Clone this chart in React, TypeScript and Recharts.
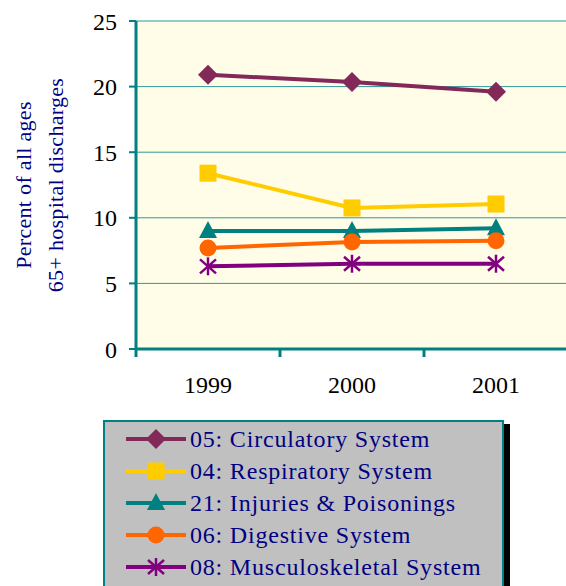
import { LineChart, Line, XAxis, YAxis, CartesianGrid } from 'recharts';

const YEARS = ['1999', '2000', '2001'];
const CIRCULATORY = [20.9, 20.35, 19.6];
const RESPIRATORY = [13.4, 10.75, 11.05];
const INJURIES = [9.0, 9.0, 9.2];
const DIGESTIVE = [7.7, 8.15, 8.25];
const MUSCULOSKELETAL = [6.3, 6.5, 6.5];
const Y_TICKS = [0, 5, 10, 15, 20, 25];
const Y_LABEL = ['Percent of all ages', '65+ hospital discharges'];

type MarkerKind = 'diamond' | 'square' | 'triangle' | 'circle' | 'star';

const SERIES: { key: string; name: string; values: number[]; color: string; marker: MarkerKind }[] = [
  { key: 'circ', name: '05: Circulatory System', values: CIRCULATORY, color: '#82295a', marker: 'diamond' },
  { key: 'resp', name: '04: Respiratory System', values: RESPIRATORY, color: '#ffcc00', marker: 'square' },
  { key: 'inj', name: '21: Injuries & Poisonings', values: INJURIES, color: '#008080', marker: 'triangle' },
  { key: 'dig', name: '06: Digestive System', values: DIGESTIVE, color: '#ff6600', marker: 'circle' },
  { key: 'musc', name: '08: Musculoskeletal System', values: MUSCULOSKELETAL, color: '#800080', marker: 'star' },
];

const data = YEARS.map((year, i) => {
  const row: Record<string, string | number> = { year };
  SERIES.forEach((s) => (row[s.key] = s.values[i]));
  return row;
});

const TEAL = '#008080';
const NAVY = '#000080';
const FONT = 'Times New Roman, Times, Liberation Serif, Tinos, serif';

const CHART_W = 600;
const MARGIN = { top: 21, right: 32, left: 0, bottom: 0 };
const Y_AXIS_W = 136;
const BAND = (CHART_W - MARGIN.right - Y_AXIS_W) / YEARS.length;

function Marker({ kind, cx, cy, color }: { kind: MarkerKind; cx: number; cy: number; color: string }) {
  switch (kind) {
    case 'diamond':
      return <polygon points={`${cx},${cy - 10} ${cx + 10},${cy} ${cx},${cy + 10} ${cx - 10},${cy}`} fill={color} />;
    case 'square':
      return <rect x={cx - 8.5} y={cy - 8.5} width={17} height={17} fill={color} />;
    case 'triangle':
      return <polygon points={`${cx},${cy - 10} ${cx + 9},${cy + 7} ${cx - 9},${cy + 7}`} fill={color} />;
    case 'circle':
      return <circle cx={cx} cy={cy} r={8.5} fill={color} />;
    case 'star':
      return (
        <g stroke={color} strokeWidth={2.5}>
          <line x1={cx} y1={cy - 9} x2={cx} y2={cy + 9} />
          <line x1={cx - 8} y1={cy - 7} x2={cx + 8} y2={cy + 7} />
          <line x1={cx - 8} y1={cy + 7} x2={cx + 8} y2={cy - 7} />
        </g>
      );
  }
}

function YearTick(props: any) {
  const { x, y, payload } = props;
  const last = payload.index === YEARS.length - 1;
  return (
    <g>
      <line x1={x - BAND / 2} y1={y - 8} x2={x - BAND / 2} y2={y} stroke={TEAL} strokeWidth={3} />
      {last && <line x1={x + BAND / 2} y1={y - 8} x2={x + BAND / 2} y2={y} stroke={TEAL} strokeWidth={3} />}
      <text x={x} y={y} dy={36} textAnchor="middle" fill="#000" fontSize={24} fontFamily={FONT}>
        {payload.value}
      </text>
    </g>
  );
}

function YLabel() {
  return (
    <g fill={NAVY} fontSize={22} fontFamily={FONT} letterSpacing={0.3}>
      {Y_LABEL.map((t, i) => (
        <text key={t} x={31 + i * 32} y={185} textAnchor="middle" transform={`rotate(-90, ${31 + i * 32}, 185)`}>
          {t}
        </text>
      ))}
    </g>
  );
}

function LegendBox() {
  return (
    <div
      style={{
        position: 'absolute',
        left: 103,
        top: 420,
        width: 401,
        height: 200,
        boxSizing: 'border-box',
        background: '#c0c0c0',
        border: `2px solid ${TEAL}`,
        boxShadow: '6px 4px 0 0 #000',
        paddingTop: 1,
        fontFamily: FONT,
        fontSize: 24,
        letterSpacing: 0.8,
        color: NAVY,
      }}
    >
      {SERIES.map((s) => (
        <div key={s.key} style={{ display: 'flex', alignItems: 'center', height: 32, whiteSpace: 'nowrap' }}>
          <svg width={62} height={32} style={{ marginLeft: 20, marginRight: 3, flex: 'none' }}>
            <line x1={1} y1={16} x2={61} y2={16} stroke={s.color} strokeWidth={4} />
            <Marker kind={s.marker} cx={31} cy={16} color={s.color} />
          </svg>
          <span>{s.name}</span>
        </div>
      ))}
    </div>
  );
}

export default function App() {
  return (
    <div style={{ position: 'fixed', left: 0, top: 0, width: 566, height: 586, overflow: 'hidden', background: '#fff' }}>
      <LineChart width={CHART_W} height={420} data={data} margin={MARGIN}>
        <CartesianGrid vertical={false} horizontal stroke="#2f9898" strokeWidth={1} fill="#fffde8" />
        <XAxis
          dataKey="year"
          scale="band"
          axisLine={{ stroke: TEAL, strokeWidth: 3 }}
          tickLine={false}
          tickSize={8}
          tickMargin={0}
          height={71}
          tick={<YearTick />}
          interval={0}
        />
        <YAxis
          width={Y_AXIS_W}
          domain={[0, 25]}
          ticks={Y_TICKS}
          axisLine={{ stroke: TEAL, strokeWidth: 3 }}
          tickLine={{ stroke: TEAL, strokeWidth: 2 }}
          tickSize={7}
          tickMargin={12}
          tick={{ fill: '#000', fontSize: 24, fontFamily: FONT }}
          label={{ content: () => <YLabel /> }}
        />
        {SERIES.map((s) => (
          <Line
            key={s.key}
            dataKey={s.key}
            name={s.name}
            stroke={s.color}
            strokeWidth={4}
            isAnimationActive={false}
            dot={(p: any) => <Marker key={`${s.key}-${p.index}`} kind={s.marker} cx={p.cx} cy={p.cy} color={s.color} />}
            activeDot={false}
          />
        ))}
      </LineChart>
      <LegendBox />
    </div>
  );
}
